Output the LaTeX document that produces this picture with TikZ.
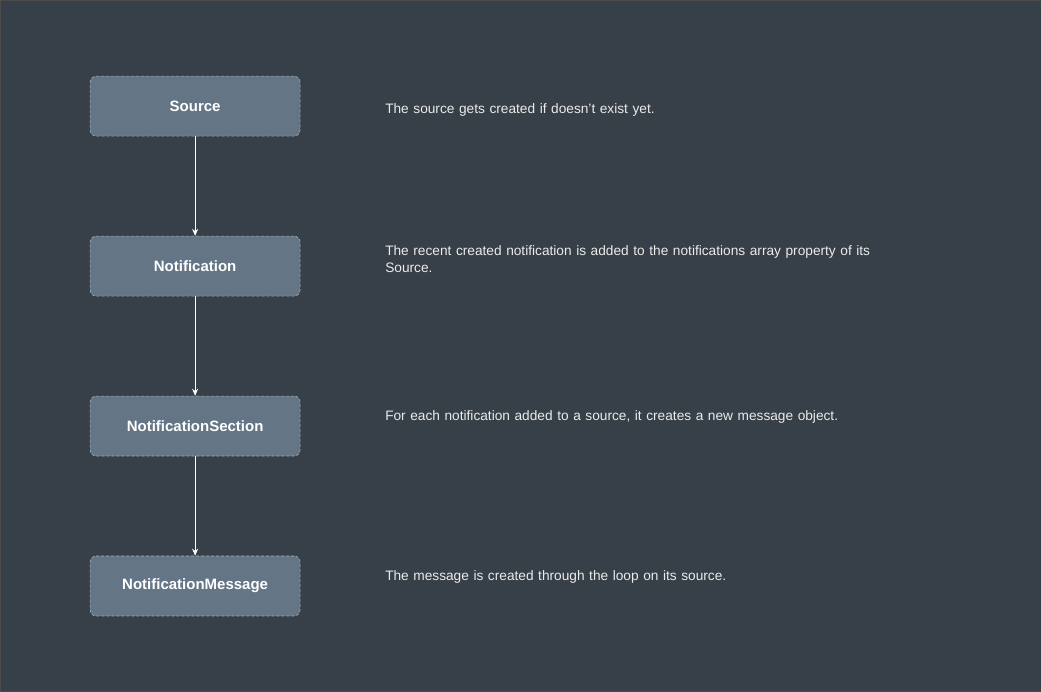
\documentclass[tikz,border=0pt]{standalone}
\usepackage{fontspec}
\setmainfont{Liberation Sans}
\usetikzlibrary{arrows.meta,positioning}
\definecolor{bgdark}{HTML}{373F48}
\definecolor{boxfill}{HTML}{647586}
\definecolor{boxline}{HTML}{A3AEB9}
\tikzset{
  stepbox/.style={draw=boxline, densely dashed, line width=0.6pt, fill=boxfill, rounded corners=6pt,
    minimum width=210pt, minimum height=60pt, text=white, font=\fontsize{15}{18}\selectfont\bfseries},
  note/.style={anchor=north west, inner sep=0pt, text width=500pt, align=left, text=white!92!black,
    font=\fontsize{13.7}{17}\selectfont},
  flow/.style={draw=white, line width=0.7pt, -{Stealth[length=7pt,width=6pt]}}
}
\begin{document}
\begin{tikzpicture}[x=1pt,y=-1pt]
\path[use as bounding box, fill=bgdark, draw=black!70] (0,0) rectangle (1041,691);
% boxes
\node[stepbox] (source) at (195,106) {Source};
\node[stepbox] (notification) at (195,266) {Notification};
\node[stepbox] (section) at (195,426) {NotificationSection};
\node[stepbox] (message) at (195,586) {NotificationMessage};
% connectors
\draw[flow] (source) -- (notification);
\draw[flow] (notification) -- (section);
\draw[flow] (section) -- (message);
% notes
\node[note] (sourcenote) at (385,103) {The source gets created if doesn't exist yet.};
\node[note] (notificationnote) at (385,245) {The recent created notification is added to the notifications array property of its Source.};
\node[note] (sectionnote) at (385,410) {For each notification added to a source, it creates a new message object.};
\node[note] (messagenote) at (385,570) {The message is created through the loop on its source.};
\end{tikzpicture}
\end{document}
